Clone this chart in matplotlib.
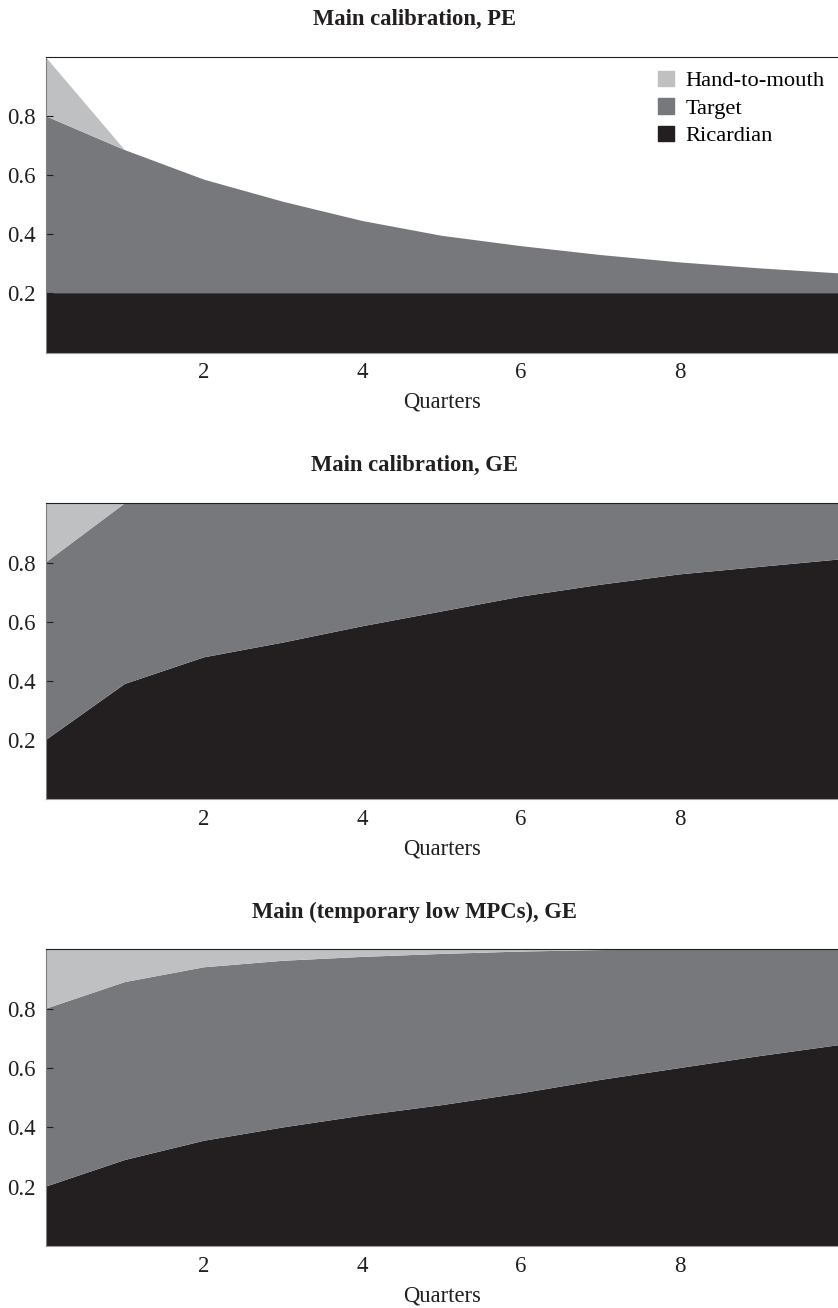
import matplotlib
matplotlib.use("Agg")
import matplotlib.pyplot as plt
from matplotlib.patches import Patch

plt.rcParams['font.family'] = ['Liberation Serif', 'DejaVu Serif']

quarters = [0, 1, 2, 3, 4, 5, 6, 7, 8, 9, 10]

# partial equilibrium
pe_ricardian = [0.20, 0.20, 0.20, 0.20, 0.20, 0.20, 0.20, 0.20, 0.20, 0.20, 0.20]
pe_target = [0.60, 0.485, 0.385, 0.31, 0.245, 0.195, 0.16, 0.13, 0.105, 0.085, 0.068]
pe_htm = [0.20, 0.0, 0.0, 0.0, 0.0, 0.0, 0.0, 0.0, 0.0, 0.0, 0.0]

# general equilibrium
ge_ricardian = [0.20, 0.39, 0.48, 0.53, 0.585, 0.635, 0.685, 0.725, 0.76, 0.785, 0.81]
ge_target = [0.60, 0.61, 0.52, 0.47, 0.415, 0.365, 0.315, 0.275, 0.24, 0.215, 0.19]
ge_htm = [0.20, 0.0, 0.0, 0.0, 0.0, 0.0, 0.0, 0.0, 0.0, 0.0, 0.0]

# general equilibrium, temporary low MPCs
low_ricardian = [0.20, 0.29, 0.355, 0.40, 0.44, 0.475, 0.515, 0.56, 0.60, 0.64, 0.677]
low_target = [0.60, 0.60, 0.585, 0.562, 0.535, 0.51, 0.478, 0.438, 0.40, 0.36, 0.323]
low_htm = [0.20, 0.11, 0.06, 0.038, 0.025, 0.015, 0.007, 0.002, 0.0, 0.0, 0.0]

titles = ['Main calibration, PE', 'Main calibration, GE', 'Main (temporary low MPCs), GE']
panels = [(pe_ricardian, pe_target, pe_htm),
          (ge_ricardian, ge_target, ge_htm),
          (low_ricardian, low_target, low_htm)]

c_ric = '#231f20'
c_tar = '#77787c'
c_htm = '#bfc0c2'

fig = plt.figure(figsize=(8.38, 13.08), dpi=100)
boxes = [(0.0545, 0.7305, 0.9455, 0.2259),
         (0.0545, 0.3888, 0.9455, 0.2264),
         (0.0545, 0.0474, 0.9455, 0.2267)]

for box, title, (ric, tar, htm) in zip(boxes, titles, panels):
    ax = fig.add_axes(box)
    ax.stackplot(quarters, ric, tar, htm, colors=[c_ric, c_tar, c_htm], linewidth=0)
    ax.set_xlim(0, 10)
    ax.set_ylim(0, 1)
    ax.set_xticks([2, 4, 6, 8])
    ax.set_yticks([0.2, 0.4, 0.6, 0.8])
    ax.set_yticklabels(['0.2', '0.4', '0.6', '0.8'])
    ax.tick_params(direction='in', labelsize=16.5, length=5, colors=c_ric, pad=7)
    ax.spines['right'].set_visible(False)
    ax.spines['top'].set_color(c_ric)
    ax.spines['left'].set_color('#808080')
    ax.spines['bottom'].set_color('#9a9a9a')
    # titles sit a little left of the axes centre
    ax.set_title(title, fontsize=16.3, fontweight='bold', pad=23, color=c_ric, x=0.465)
    ax.set_xlabel('Quarters', fontsize=16.3, labelpad=6, color=c_ric)

    if title.endswith('PE'):
        handles = [Patch(color=c_htm, label='Hand-to-mouth'),
                   Patch(color=c_tar, label='Target'),
                   Patch(color=c_ric, label='Ricardian')]
        ax.legend(handles=handles, loc='upper right', frameon=False, fontsize=16.2,
                  handlelength=0.7, handleheight=0.7, handletextpad=0.5,
                  labelspacing=0.3, borderaxespad=0.3, borderpad=0.3)

fig.savefig('out.png', dpi=100)
